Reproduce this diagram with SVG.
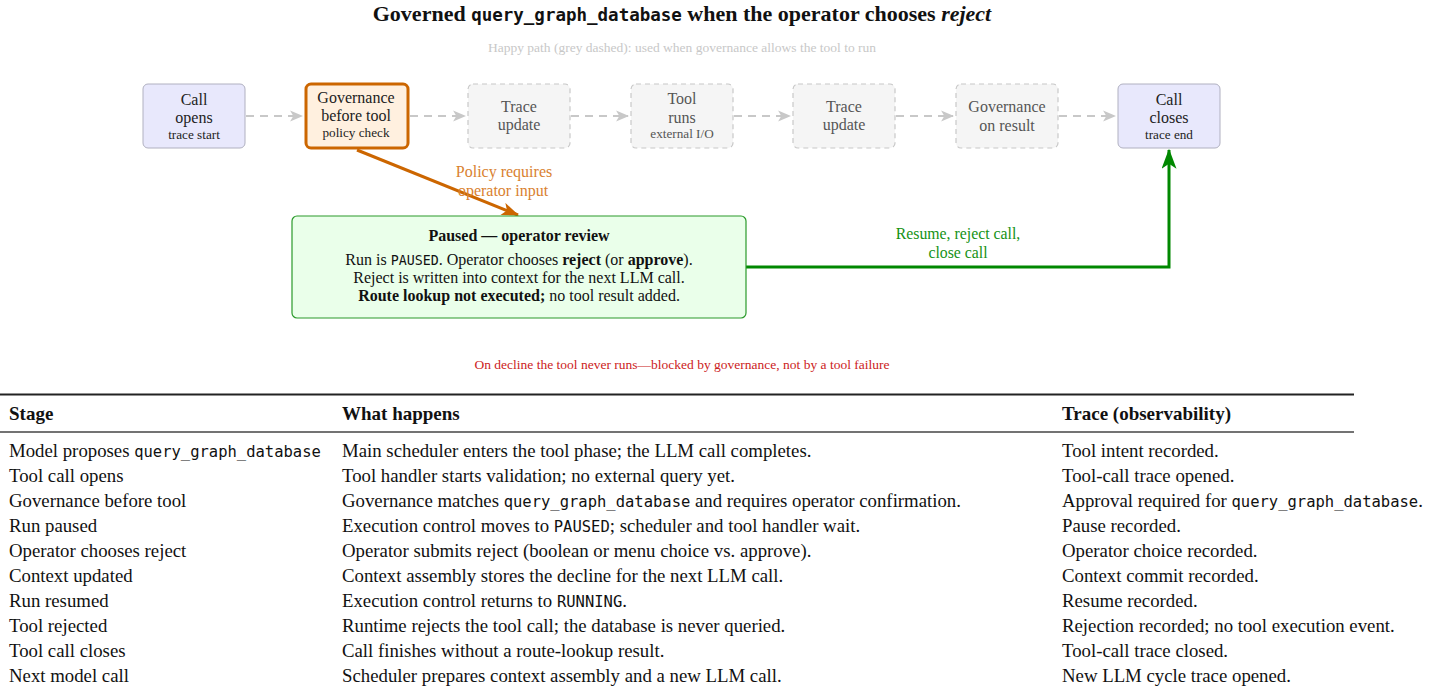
<svg xmlns="http://www.w3.org/2000/svg" width="1436" height="694" viewBox="0 0 1436 694">
<style>
text{font-family:"Liberation Serif","DejaVu Serif",serif;}
.mono{font-family:"DejaVu Sans Mono","Liberation Mono",monospace;}
.title{font-size:22px;font-weight:bold;fill:#111;}
.sub{font-size:13.5px;fill:#c8c8c8;}
.nl{font-size:16px;fill:#222;text-anchor:middle;}
.ns{font-size:13.2px;fill:#222;text-anchor:middle;}
.gl{font-size:16px;fill:#555;text-anchor:middle;}
.gs{font-size:13.2px;fill:#555;text-anchor:middle;}
.endpt{fill:#e8e8fc;stroke:#b0b0c0;stroke-width:1;}
.ghost{fill:#f5f5f5;stroke:#c8c8c8;stroke-width:1.2;stroke-dasharray:5,4;}
.gov{fill:#fff0df;stroke:#cc6600;stroke-width:3;}
.pause{fill:#eaffea;stroke:#2a9a2a;stroke-width:1.2;}
.happy{fill:none;stroke:#c8c8c8;stroke-width:2.2;stroke-dasharray:8,6;}
.th{font-size:19px;font-weight:bold;fill:#111;}
.td{font-size:18.8px;fill:#111;}
.tm{font-family:"DejaVu Sans Mono","Liberation Mono",monospace;font-size:15.5px;}
.pb{font-size:16px;fill:#111;text-anchor:middle;}
</style>
<defs>
<marker id="ag" viewBox="0 0 12 12" refX="11" refY="6" markerWidth="13" markerHeight="13" markerUnits="userSpaceOnUse" orient="auto">
<path d="M0,1 L12,6 L0,11 L3,6 Z" fill="#c8c8c8"/>
</marker>
<marker id="ao" viewBox="0 0 16 12" refX="15" refY="6" markerWidth="18" markerHeight="13" markerUnits="userSpaceOnUse" orient="auto">
<path d="M0,0 L16,6 L0,12 L4,6 Z" fill="#cc6600"/>
</marker>
<marker id="agr" viewBox="0 0 16 12" refX="15" refY="6" markerWidth="20" markerHeight="15" markerUnits="userSpaceOnUse" orient="auto">
<path d="M0,0 L16,6 L0,12 L4,6 Z" fill="#008800"/>
</marker>
</defs>
<rect width="1436" height="694" fill="#fff"/>
<text x="682" y="21" text-anchor="middle" class="title">Governed <tspan class="mono" font-size="17.5">query_graph_database</tspan> when the operator chooses <tspan font-style="italic">reject</tspan></text>
<text x="682" y="52" text-anchor="middle" class="sub">Happy path (grey dashed): used when governance allows the tool to run</text>

<g id="connectors">
<line class="happy" x1="246" y1="116" x2="302" y2="116" marker-end="url(#ag)"/>
<line class="happy" x1="410" y1="116" x2="465" y2="116" marker-end="url(#ag)"/>
<line class="happy" x1="571" y1="116" x2="628" y2="116" marker-end="url(#ag)"/>
<line class="happy" x1="734" y1="116" x2="790" y2="116" marker-end="url(#ag)"/>
<line class="happy" x1="896" y1="116" x2="953" y2="116" marker-end="url(#ag)"/>
<line class="happy" x1="1059" y1="116" x2="1115" y2="116" marker-end="url(#ag)"/>
<line x1="357" y1="150" x2="518" y2="215" stroke="#cc6600" stroke-width="3" marker-end="url(#ao)"/>
<text x="504" y="177" text-anchor="middle" font-size="16" fill="#d9812f">Policy requires</text>
<text x="503" y="196" text-anchor="middle" font-size="16" fill="#d9812f">operator input</text>
<polyline points="746,267 1169,267 1169,150" fill="none" stroke="#008800" stroke-width="3" marker-end="url(#agr)"/>
<text x="958" y="239" text-anchor="middle" font-size="15.8" fill="#159215">Resume, reject call,</text>
<text x="958" y="258" text-anchor="middle" font-size="15.8" fill="#159215">close call</text>
</g>

<g id="n_open">
<rect class="endpt" x="143" y="84" width="102" height="64" rx="5"/>
<text class="nl" x="194" y="105">Call</text>
<text class="nl" x="194" y="123">opens</text>
<text class="ns" x="194" y="139">trace start</text>
</g>
<g id="n_gov">
<rect class="gov" x="306" y="84" width="102" height="64" rx="5"/>
<text class="nl" x="356" y="103">Governance</text>
<text class="nl" x="356" y="121">before tool</text>
<text class="ns" x="356" y="137">policy check</text>
</g>
<g id="n_trace1">
<rect class="ghost" x="468" y="84" width="102" height="64" rx="5"/>
<text class="gl" x="519" y="112">Trace</text>
<text class="gl" x="519" y="130">update</text>
</g>
<g id="n_tool">
<rect class="ghost" x="631" y="84" width="102" height="64" rx="5"/>
<text class="gl" x="682" y="104">Tool</text>
<text class="gl" x="682" y="123">runs</text>
<text class="gs" x="682" y="138">external I/O</text>
</g>
<g id="n_trace2">
<rect class="ghost" x="793" y="84" width="102" height="64" rx="5"/>
<text class="gl" x="844" y="112">Trace</text>
<text class="gl" x="844" y="130">update</text>
</g>
<g id="n_govres">
<rect class="ghost" x="956" y="84" width="102" height="64" rx="5"/>
<text class="gl" x="1007" y="112">Governance</text>
<text class="gl" x="1007" y="131">on result</text>
</g>
<g id="n_close">
<rect class="endpt" x="1118" y="84" width="102" height="64" rx="5"/>
<text class="nl" x="1169" y="105">Call</text>
<text class="nl" x="1169" y="123">closes</text>
<text class="ns" x="1169" y="139">trace end</text>
</g>
<g id="n_pause">
<rect class="pause" x="292" y="216" width="454" height="102" rx="5"/>
<text class="pb" x="519" y="241" font-weight="bold">Paused — operator review</text>
<text class="pb" x="519" y="265">Run is <tspan class="mono" font-size="13.3">PAUSED</tspan>. Operator chooses <tspan font-weight="bold">reject</tspan> (or <tspan font-weight="bold">approve</tspan>).</text>
<text class="pb" x="519" y="283">Reject is written into context for the next LLM call.</text>
<text class="pb" x="519" y="301"><tspan font-weight="bold">Route lookup not executed;</tspan> no tool result added.</text>
</g>

<text x="682" y="369" text-anchor="middle" font-size="13.5" fill="#cc2222">On decline the tool never runs—blocked by governance, not by a tool failure</text>

<g id="table">
<line x1="0" y1="394.5" x2="1354" y2="394.5" stroke="#222" stroke-width="2"/>
<line x1="0" y1="432" x2="1354" y2="432" stroke="#444" stroke-width="1.5"/>
<text class="th" x="9" y="420">Stage</text>
<text class="th" x="342" y="420">What happens</text>
<text class="th" x="1062" y="420">Trace (observability)</text>

<text class="td" x="9" y="457">Model proposes <tspan class="tm">query_graph_database</tspan></text>
<text class="td" x="342" y="457">Main scheduler enters the tool phase; the LLM call completes.</text>
<text class="td" x="1062" y="457">Tool intent recorded.</text>

<text class="td" x="9" y="482">Tool call opens</text>
<text class="td" x="342" y="482">Tool handler starts validation; no external query yet.</text>
<text class="td" x="1062" y="482">Tool-call trace opened.</text>

<text class="td" x="9" y="507">Governance before tool</text>
<text class="td" x="342" y="507">Governance matches <tspan class="tm">query_graph_database</tspan> and requires operator confirmation.</text>
<text class="td" x="1062" y="507">Approval required for <tspan class="tm">query_graph_database</tspan>.</text>

<text class="td" x="9" y="532">Run paused</text>
<text class="td" x="342" y="532">Execution control moves to <tspan class="tm">PAUSED</tspan>; scheduler and tool handler wait.</text>
<text class="td" x="1062" y="532">Pause recorded.</text>

<text class="td" x="9" y="557">Operator chooses reject</text>
<text class="td" x="342" y="557">Operator submits reject (boolean or menu choice vs. approve).</text>
<text class="td" x="1062" y="557">Operator choice recorded.</text>

<text class="td" x="9" y="582">Context updated</text>
<text class="td" x="342" y="582">Context assembly stores the decline for the next LLM call.</text>
<text class="td" x="1062" y="582">Context commit recorded.</text>

<text class="td" x="9" y="607">Run resumed</text>
<text class="td" x="342" y="607">Execution control returns to <tspan class="tm">RUNNING</tspan>.</text>
<text class="td" x="1062" y="607">Resume recorded.</text>

<text class="td" x="9" y="632">Tool rejected</text>
<text class="td" x="342" y="632">Runtime rejects the tool call; the database is never queried.</text>
<text class="td" x="1062" y="632">Rejection recorded; no tool execution event.</text>

<text class="td" x="9" y="657">Tool call closes</text>
<text class="td" x="342" y="657">Call finishes without a route-lookup result.</text>
<text class="td" x="1062" y="657">Tool-call trace closed.</text>

<text class="td" x="9" y="682">Next model call</text>
<text class="td" x="342" y="682">Scheduler prepares context assembly and a new LLM call.</text>
<text class="td" x="1062" y="682">New LLM cycle trace opened.</text>
</g>
</svg>
